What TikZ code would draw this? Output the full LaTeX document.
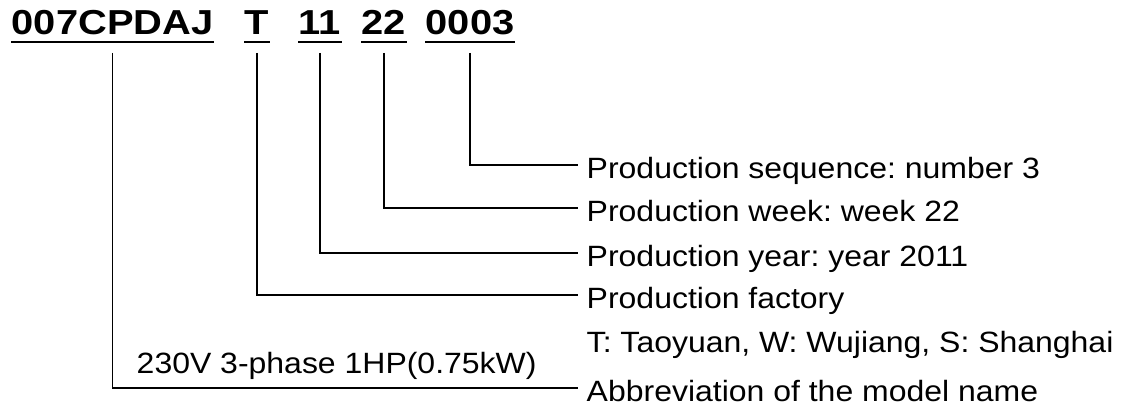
\documentclass[tikz,border=0pt]{standalone}
\usepackage{fontspec}
\newfontfamily\tagfont{Liberation Sans}[FakeStretch=1.09]
\newfontfamily\codefont{Liberation Sans}[FakeStretch=1.15]
\usetikzlibrary{positioning}
\frenchspacing

\begin{document}
\begin{tikzpicture}[x=0.75pt, y=-0.75pt, line width=1.1pt,
  code/.style={inner sep=0pt, anchor=base west, font=\codefont\bfseries\fontsize{26}{30}\selectfont},
  lbl/.style={inner xsep=6pt, inner ysep=0pt, anchor=west, text height=19.5pt, text depth=0pt,
    font=\tagfont\fontsize{22}{26}\selectfont},
  uline/.style={line width=2pt}]
  \useasboundingbox[fill=white] (0,0) rectangle (1121,410);
  % serial number, split in its fields
  \node[code] (model)  at (11,35)  {007CPDAJ};
  \node[code] (plant)  at (244,35) {T};
  \node[code] (year)   at (298,35) {11};
  \node[code] (week)   at (361,35) {22};
  \node[code] (serial) at (425,35) {0003};
  \foreach \n in {model,plant,year,week,serial}
    \draw[uline] ([yshift=-5.25pt]\n.base west) -- ([yshift=-5.25pt]\n.base east);
  % meaning of each field
  \node[lbl] (seqtxt)  at (578,165) {Production sequence: number 3};
  \node[lbl] (weektxt) at (578,208) {Production week: week 22};
  \node[lbl] (yeartxt) at (578,253) {Production year: year 2011};
  \node[lbl] (plttxt)  at (578,295) {Production factory};
  \node[lbl, below=12.75pt of plttxt.south west, anchor=north west] (pltnote) {T: Taoyuan, W: Wujiang, S: Shanghai};
  \node[lbl] (modtxt)  at (578,388) {Abbreviation of the model name};
  \node[lbl, inner sep=0pt, anchor=base west] (rating) at (136,373) {230V 3-phase 1HP(0.75kW)};
  \foreach \n/\t in {serial/seqtxt, week/weektxt, year/yeartxt, plant/plttxt, model/modtxt}
    \draw ([yshift=-13.5pt]\n.base) |- (\t.west);
\end{tikzpicture}
\end{document}
